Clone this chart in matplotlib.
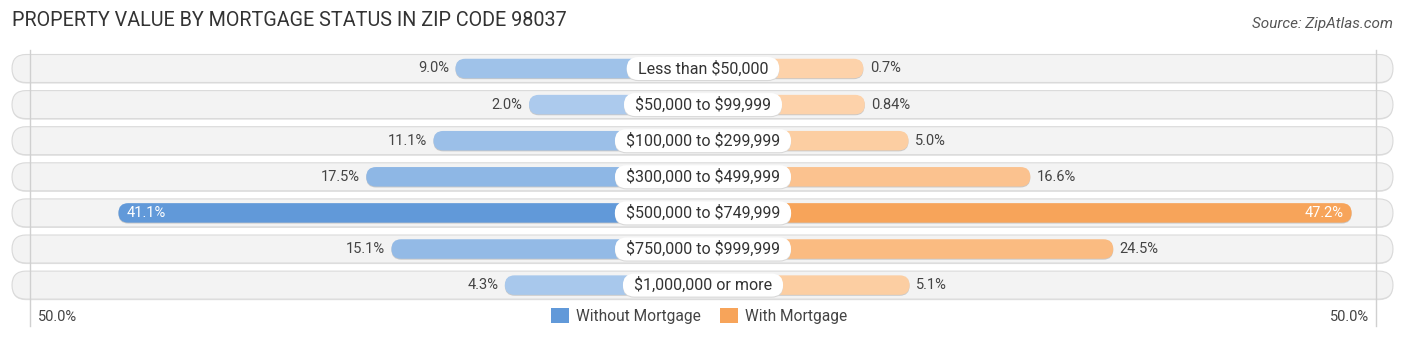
import matplotlib.pyplot as plt
import numpy as np
from matplotlib.patches import FancyBboxPatch, Patch
from matplotlib.colors import to_rgb

plt.rcParams['font.family'] = ['Roboto', 'DejaVu Sans']
plt.rcParams['text.parse_math'] = False

categories = ["Less than $50,000", "$50,000 to $99,999", "$100,000 to $299,999",
              "$300,000 to $499,999", "$500,000 to $749,999", "$750,000 to $999,999",
              "$1,000,000 or more"]
without_mortgage = [9.0, 2.0, 11.1, 17.5, 41.1, 15.1, 4.3]
with_mortgage = [0.7, 0.84, 5.0, 16.6, 47.2, 24.5, 5.1]
without_labels = ["9.0%", "2.0%", "11.1%", "17.5%", "41.1%", "15.1%", "4.3%"]
with_labels = ["0.7%", "0.84%", "5.0%", "16.6%", "47.2%", "24.5%", "5.1%"]

W, H = 1406, 340
PX_X = 10.5          # pixels per percent
PX_Y = 36.1          # pixels per row
ROW0 = 68.5          # first row center (px from top)
OFF = 153 / PX_X     # half-width reserved for category label
ASPECT = PX_X / PX_Y

fig = plt.figure(figsize=(W / 100, H / 100), dpi=100)
ax = fig.add_axes([0, 0, 1, 1])
ax.set_xlim(-703 / PX_X, 703 / PX_X)
ax.set_ylim((H - ROW0) / PX_Y, -ROW0 / PX_Y)
ax.axis('off')


def pill(x0, x1, y, h, fc, ec='none', lw=0, z=2):
    r = h / ASPECT / 2
    p = FancyBboxPatch((x0, y - h / 2), x1 - x0, h,
                       boxstyle=f"round,pad=0,rounding_size={r}",
                       mutation_aspect=ASPECT, fc=fc, ec=ec, lw=lw, zorder=z)
    ax.add_patch(p)
    return p


def shade(light, strong, t):
    a, b = np.array(to_rgb(light)), np.array(to_rgb(strong))
    return tuple(a + (b - a) * t)


blue_light, blue_strong = "#b0cdee", "#6199d9"
orange_light, orange_strong = "#fdd3ab", "#f7a45a"

track_l, track_r = (12 - 703) / PX_X, (1393 - 703) / PX_X
for i in range(len(categories)):
    # background track with a soft shadow
    pill(track_l, track_r, i + 0.03, 28 / PX_Y, "#e2e2e2", z=0)
    pill(track_l, track_r, i, 28 / PX_Y, "#f3f3f3", ec="#dadada", lw=0.8, z=1)

# light guide lines at the 50% edges
for gx in ((30 - 703) / PX_X, (1376 - 703) / PX_X):
    ax.plot([gx, gx], [-0.52, 7.12], color="#d0d0d0", lw=1, zorder=1.5)

bh = 19.5 / PX_Y
for i, (a, b) in enumerate(zip(without_mortgage, with_mortgage)):
    ca = shade(blue_light, blue_strong, a / max(without_mortgage))
    cb = shade(orange_light, orange_strong, b / max(with_mortgage))
    pill(-(OFF + a), 0, i + 0.025, bh, "#c8c8c8", z=2)
    pill(-(OFF + a), 0, i, bh, ca, z=3)
    pill(0, OFF + b, i + 0.025, bh, "#c8c8c8", z=2)
    pill(0, OFF + b, i, bh, cb, z=3)

    if a > 30:
        ax.text(-(OFF + a) + 0.8, i, without_labels[i], ha='left', va='center',
                fontsize=10.5, color='white', zorder=6)
    else:
        ax.text(-(OFF + a) - 0.6, i, without_labels[i], ha='right', va='center',
                fontsize=10.5, color='#444444', zorder=6)
    if b > 30:
        ax.text(OFF + b - 0.8, i, with_labels[i], ha='right', va='center',
                fontsize=10.5, color='white', zorder=6)
    else:
        ax.text(OFF + b + 0.6, i, with_labels[i], ha='left', va='center',
                fontsize=10.5, color='#444444', zorder=6)

# category labels in white pills at the center
fig.canvas.draw()
renderer = fig.canvas.get_renderer()
for i, cat in enumerate(categories):
    t = ax.text(0, i, cat, ha='center', va='center', fontsize=11.5,
                color='#333333', zorder=8)
    bb = t.get_window_extent(renderer=renderer)
    half = (bb.width / 2 + 11) / PX_X
    pill(-half, half, i + 0.03, 23 / PX_Y, "#d8d8d8", z=6)
    pill(-half, half, i, 23 / PX_Y, "white", z=7)

fig.text(12 / W, 1 - 20 / H, "PROPERTY VALUE BY MORTGAGE STATUS IN ZIP CODE 98037",
         ha='left', va='center', fontsize=14.2, color='#333333')
fig.text(1393 / W, 1 - 24 / H, "Source: ZipAtlas.com", ha='right', va='center',
         fontsize=11, style='italic', color='#555555')

fig.text(38 / W, 1 - 317 / H, "50.0%", ha='left', va='center', fontsize=10.5, color='#444444')
fig.text(1369 / W, 1 - 317 / H, "50.0%", ha='right', va='center', fontsize=10.5, color='#444444')

handles = [Patch(fc=blue_strong, label="Without Mortgage"),
           Patch(fc=orange_strong, label="With Mortgage")]
fig.legend(handles=handles, loc='center', bbox_to_anchor=(699 / W, 1 - 316 / H), ncol=2,
           frameon=False, fontsize=11.2, handlelength=1.15, handleheight=1.15,
           handletextpad=0.45, columnspacing=1.2, labelcolor='#444444')

fig.savefig("out.png", dpi=100, facecolor='white')
